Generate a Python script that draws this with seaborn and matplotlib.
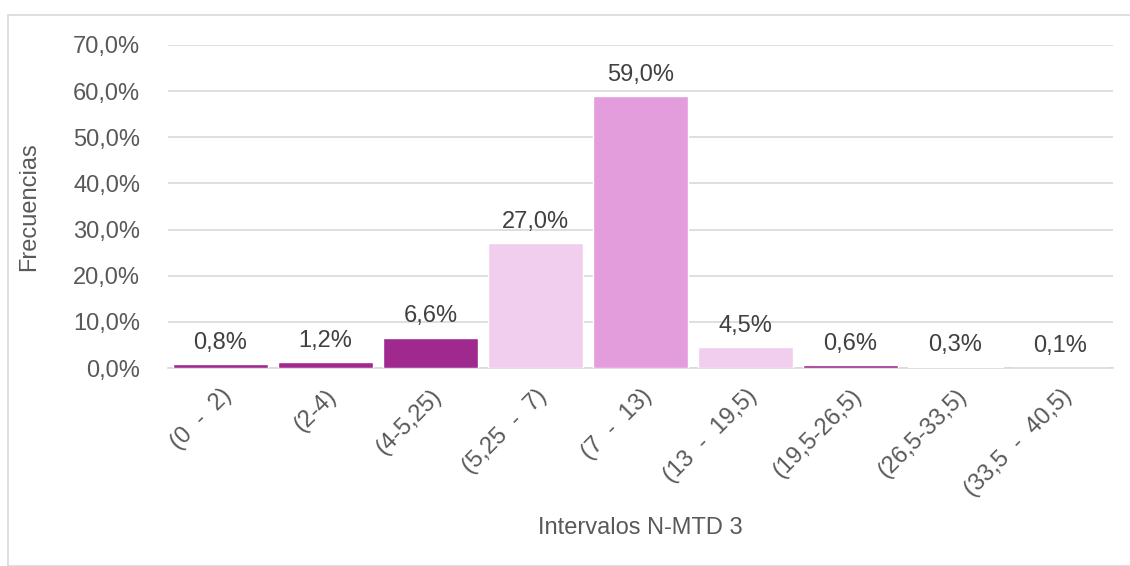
import matplotlib
matplotlib.use("Agg")
import matplotlib.pyplot as plt
import seaborn as sns
import pandas as pd
from matplotlib.patches import Rectangle

intervalos = ["(0  -  2)", "(2-4)", "(4-5,25)", "(5,25  -  7)", "(7  -  13)",
              "(13  -  19,5)", "(19,5-26,5)", "(26,5-33,5)", "(33,5  -  40,5)"]
frecuencias = [0.8, 1.2, 6.6, 27.0, 59.0, 4.5, 0.6, 0.3, 0.1]
colores = ["#A0298F", "#A0298F", "#A0298F", "#F1CDEE", "#E39DDC",
           "#F1CDEE", "#A0298F", "#C77DBE", "#E8B6E2"]

df = pd.DataFrame({"intervalo": intervalos, "frecuencia": frecuencias})

sns.set_style("white")
plt.rcParams["font.family"] = ["Liberation Sans", "DejaVu Sans"]

fig = plt.figure(figsize=(11.3, 5.66), dpi=100)
ax = fig.add_axes([168 / 1130, 1 - 368 / 566, (1113 - 168) / 1130, (368 - 45) / 566])

sns.barplot(data=df, x="intervalo", y="frecuencia", hue="intervalo",
            palette=colores, legend=False, width=0.91, saturation=1, ax=ax, zorder=3)

ax.set_ylim(0, 70)
ax.set_yticks(range(0, 71, 10))
ax.set_yticklabels([f"{v},0%" for v in range(0, 71, 10)])
ax.yaxis.grid(True, color="#D9D9D9", linewidth=1.2, zorder=0)
for s in ["top", "right", "left"]:
    ax.spines[s].set_visible(False)
ax.spines["bottom"].set_color("#D9D9D9")
ax.spines["bottom"].set_linewidth(1.2)
ax.tick_params(axis="both", length=0, labelsize=17, colors="#595959")
ax.tick_params(axis="y", pad=20)
plt.setp(ax.get_xticklabels(), rotation=45, ha="right", rotation_mode="anchor")
ax.tick_params(axis="x", pad=12)

for i, v in enumerate(frecuencias):
    ax.text(i, v + 2.2, f"{v:.1f}%".replace(".", ","), ha="center", va="bottom",
            fontsize=17, color="#404040")

ax.set_xlabel("Intervalos N-MTD 3", fontsize=17, color="#595959")
ax.xaxis.set_label_coords(0.5, -0.46)
ax.set_ylabel("Frecuencias", fontsize=17, color="#595959")
ax.yaxis.set_label_coords(-0.135, 0.5)

fig.patches.append(Rectangle((8 / 1130, 0), 1.0, 1 - 15 / 566, transform=fig.transFigure,
                             fill=False, edgecolor="#D9D9D9", linewidth=1.2))

fig.savefig("out.png", dpi=100)
